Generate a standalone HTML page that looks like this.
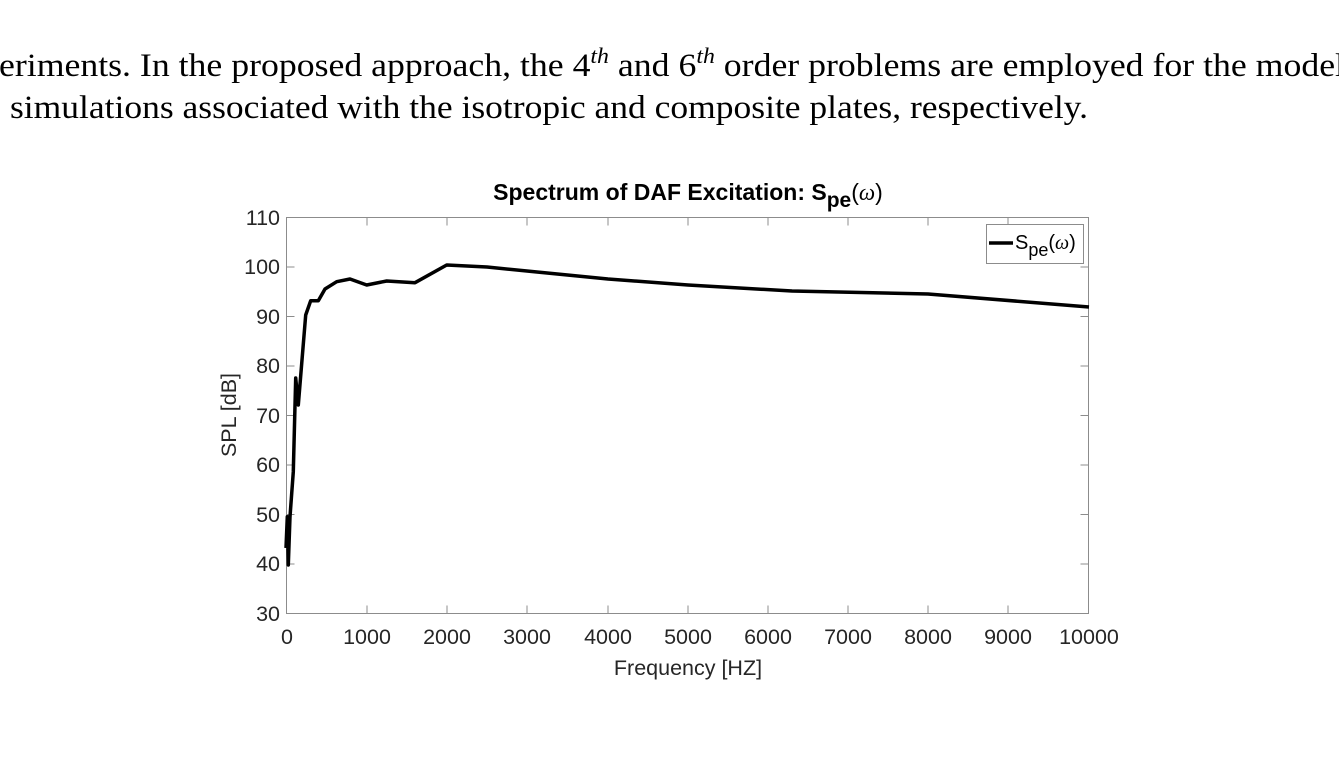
<!DOCTYPE html>
<html><head><meta charset="utf-8"><style>
html,body{margin:0;padding:0;background:#fff;width:1339px;height:757px;overflow:hidden}
svg{display:block}
</style></head><body>
<svg width="1339" height="757" viewBox="0 0 1339 757" xmlns="http://www.w3.org/2000/svg">
<g font-family="Liberation Serif, serif" font-size="33" fill="#000">
<text x="-1" y="76" textLength="1346" lengthAdjust="spacingAndGlyphs">eriments. In the proposed approach, the 4<tspan font-style="italic" font-size="22" dy="-13">th</tspan><tspan dy="13"> and 6</tspan><tspan font-style="italic" font-size="22" dy="-13">th</tspan><tspan dy="13"> order problems are employed for the model</tspan></text>
<text x="10" y="118" textLength="1078" lengthAdjust="spacingAndGlyphs">simulations associated with the isotropic and composite plates, respectively.</text>
</g>
<g font-family="Liberation Sans, Arial, sans-serif">
<text x="688" y="200" text-anchor="middle" font-size="23" font-weight="bold" fill="#000">Spectrum of DAF Excitation: S<tspan font-size="21" dy="7">pe</tspan><tspan dy="-7" font-weight="normal">(</tspan><tspan font-weight="normal" font-style="italic" font-family="Liberation Serif, serif">ω</tspan><tspan font-weight="normal">)</tspan></text>
<rect x="286.5" y="217.5" width="802" height="396" fill="none" stroke="#8c8c8c" stroke-width="1"/>
<g stroke="#8c8c8c" stroke-width="1">
<path d="M367 613.5v-8M447 613.5v-8M527 613.5v-8M608 613.5v-8M688 613.5v-8M768 613.5v-8M848 613.5v-8M928 613.5v-8M1008 613.5v-8"/>
<path d="M367 217.5v8M447 217.5v8M527 217.5v8M608 217.5v8M688 217.5v8M768 217.5v8M848 217.5v8M928 217.5v8M1008 217.5v8"/>
<path d="M286.5 564h8M286.5 514.5h8M286.5 465h8M286.5 415.5h8M286.5 366h8M286.5 316.5h8M286.5 267h8"/>
<path d="M1088.5 564h-8M1088.5 514.5h-8M1088.5 465h-8M1088.5 415.5h-8M1088.5 366h-8M1088.5 316.5h-8M1088.5 267h-8"/>
</g>
<g font-size="21.5" fill="#262626" text-anchor="end">
<text x="280" y="225">110</text><text x="280" y="274">100</text><text x="280" y="324">90</text><text x="280" y="373">80</text><text x="280" y="423">70</text><text x="280" y="472">60</text><text x="280" y="522">50</text><text x="280" y="571">40</text><text x="280" y="621">30</text>
</g>
<g font-size="21.5" fill="#262626" text-anchor="middle">
<text x="287" y="644">0</text><text x="367" y="644">1000</text><text x="447" y="644">2000</text><text x="527" y="644">3000</text><text x="608" y="644">4000</text><text x="688" y="644">5000</text><text x="768" y="644">6000</text><text x="848" y="644">7000</text><text x="928" y="644">8000</text><text x="1008" y="644">9000</text><text x="1089" y="644">10000</text>
<text x="688" y="675">Frequency [HZ]</text>
<text transform="translate(236,415) rotate(-90)">SPL [dB]</text>
</g>
<polyline fill="none" stroke="#000" stroke-width="3.5" stroke-linejoin="round" points="286,548 287.3,516.7 288.3,565 290,516.7 293.3,471.7 295.7,378 298.3,405 305.7,315 310.7,300.7 318.3,300.7 325,289 336.7,281.7 350,279 366.7,285 386.7,281 415,282.7 446.7,265 487,267 537,272 608,279 688,285 792,291 928,294 1089,307"/>
<rect x="986.5" y="224.5" width="97" height="39" fill="#fff" stroke="#8c8c8c" stroke-width="1"/>
<line x1="989" y1="243" x2="1013" y2="243" stroke="#000" stroke-width="3.5"/>
<text x="1015" y="249" font-size="20" fill="#000">S<tspan font-size="18" dy="7">pe</tspan><tspan dy="-7">(</tspan><tspan font-style="italic" font-family="Liberation Serif, serif">ω</tspan>)</text>
</g>
</svg>
</body></html>
